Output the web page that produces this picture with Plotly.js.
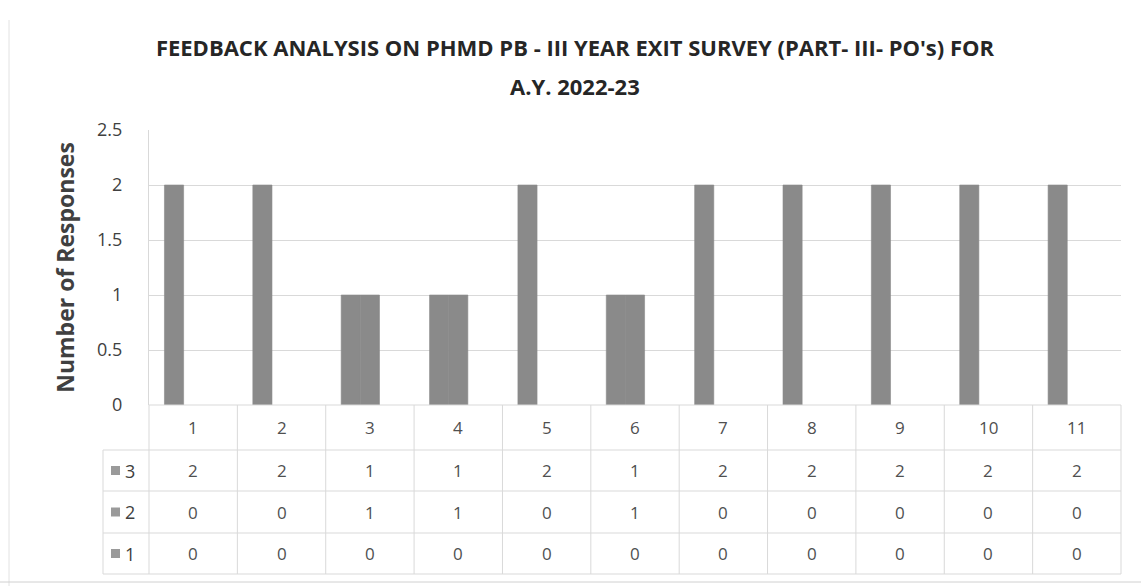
<!DOCTYPE html>
<html><head><meta charset="utf-8">
<script src="https://cdn.plot.ly/plotly-3.0.1.min.js"></script>
<style>html,body{margin:0;padding:0;background:#fff;}#chart{width:1141px;height:586px;}</style>
</head><body><div id="chart"></div>
<script>
const categories = ['1','2','3','4','5','6','7','8','9','10','11'];
const seriesNames = ['3','2','1'];
const series3 = [2,2,1,1,2,1,2,2,2,2,2];
const series2 = [0,0,1,1,0,1,0,0,0,0,0];
const series1 = [0,0,0,0,0,0,0,0,0,0,0];
const seriesValues = [series3, series2, series1];
const titleLine1 = "FEEDBACK ANALYSIS ON PHMD PB - III YEAR EXIT SURVEY (PART- III- PO's) FOR";
const titleLine2 = "A.Y. 2022-23";

const W = 1141, H = 586;
const L = 149, R = 1121, T = 130, B = 405;
const plotH = B - T;
const py = p => (B - p) / plotH;   // pixel y -> paper y
const px = p => (p - L) / (R - L); // pixel x -> paper x

const barColor = '#8a8a8a';
const lineCol = '#d9d9d9';
const textCol = '#505050';
const FONT = 'Open Sans, sans-serif';

const traces = seriesValues.map((vals, i) => ({
  type: 'bar', name: seriesNames[i], x: categories, y: vals,
  marker: {color: barColor, line: {width: vals.map(v => v ? 0.6 : 0), color: barColor}}, hoverinfo: 'skip'
}));

const rowEdges = [B, 450, 491, 533, 574];
const shapes = [];
const annotations = [];

rowEdges.forEach((e, i) => {
  shapes.push({type:'line', xref:'paper', yref:'paper', x0: i===0 ? 0 : px(103), x1: 1, y0: py(e), y1: py(e), line:{color: lineCol, width: 1}});
});
for (let k = 0; k <= categories.length; k++) {
  const xp = k / categories.length;
  shapes.push({type:'line', xref:'paper', yref:'paper', x0: xp, x1: xp, y0: py(B), y1: py(574), line:{color: lineCol, width: 1}});
}
shapes.push({type:'line', xref:'paper', yref:'paper', x0: px(103), x1: px(103), y0: py(450), y1: py(574), line:{color: lineCol, width: 1}});
shapes.push({type:'line', xref:'paper', yref:'paper', x0: px(9), x1: px(9), y0: py(20), y1: py(586), line:{color: '#e2e2e2', width: 1}});
shapes.push({type:'line', xref:'paper', yref:'paper', x0: px(0), x1: px(1141), y0: py(582), y1: py(582), line:{color: '#d0d0d0', width: 1}});

categories.forEach((c, i) => {
  annotations.push({xref:'x', yref:'paper', x: i, y: py((B + 450) / 2), text: c, showarrow: false,
    font:{family: FONT, size: 17, color: textCol}, xanchor:'center', yanchor:'middle'});
});
seriesValues.forEach((vals, r) => {
  const yc = py((rowEdges[r+1] + rowEdges[r+2]) / 2);
  vals.forEach((v, i) => {
    annotations.push({xref:'x', yref:'paper', x: i, y: yc, text: String(v), showarrow: false,
      font:{family: FONT, size: 17, color: textCol}, xanchor:'center', yanchor:'middle'});
  });
  shapes.push({type:'rect', xref:'paper', yref:'paper', x0: px(111), x1: px(120), y0: yc - 4.5/plotH, y1: yc + 4.5/plotH,
    fillcolor: '#9a9a9a', line:{width: 0}});
  annotations.push({xref:'paper', yref:'paper', x: px(123), y: yc, text: seriesNames[r], showarrow: false,
    font:{family: FONT, size: 18, color: '#404040'}, xanchor:'left', yanchor:'middle'});
});
annotations.push({xref:'paper', yref:'paper', x: px(575), y: py(86), text: '<b>' + titleLine2 + '</b>', showarrow: false,
  font: {family: FONT, size: 22, color: '#262626'}, xanchor: 'center', yanchor: 'middle'});

const layout = {
  width: W, height: H,
  margin: {l: L, r: W - R, t: T, b: H - B, pad: 0},
  paper_bgcolor: '#ffffff', plot_bgcolor: '#ffffff',
  showlegend: false,
  barmode: 'group', bargap: 0.35, bargroupgap: 0,
  title: {text: '<b>' + titleLine1 + '</b>',
    font: {family: FONT, size: 22, color: '#262626'}, x: 575 / W, xanchor: 'center', y: 1 - 48 / H, yanchor: 'middle'},
  xaxis: {type: 'category', range: [-0.5, categories.length - 0.5], showticklabels: false, ticks: '', showgrid: false, zeroline: false, showline: false, fixedrange: true},
  yaxis: {range: [0, 2.5], dtick: 0.5, showgrid: true, gridcolor: lineCol, gridwidth: 1,
    zeroline: false, showline: true, linecolor: lineCol, linewidth: 1, ticks: '',
    ticklabelstandoff: 22,
    tickfont: {family: FONT, size: 18, color: '#404040'},
    title: {text: '<b>Number of Responses</b>', font: {family: FONT, size: 23, color: '#404040'}, standoff: 16}},
  shapes: shapes, annotations: annotations
};

Plotly.newPlot('chart', traces, layout, {displayModeBar: false, staticPlot: true});
</script></body></html>
